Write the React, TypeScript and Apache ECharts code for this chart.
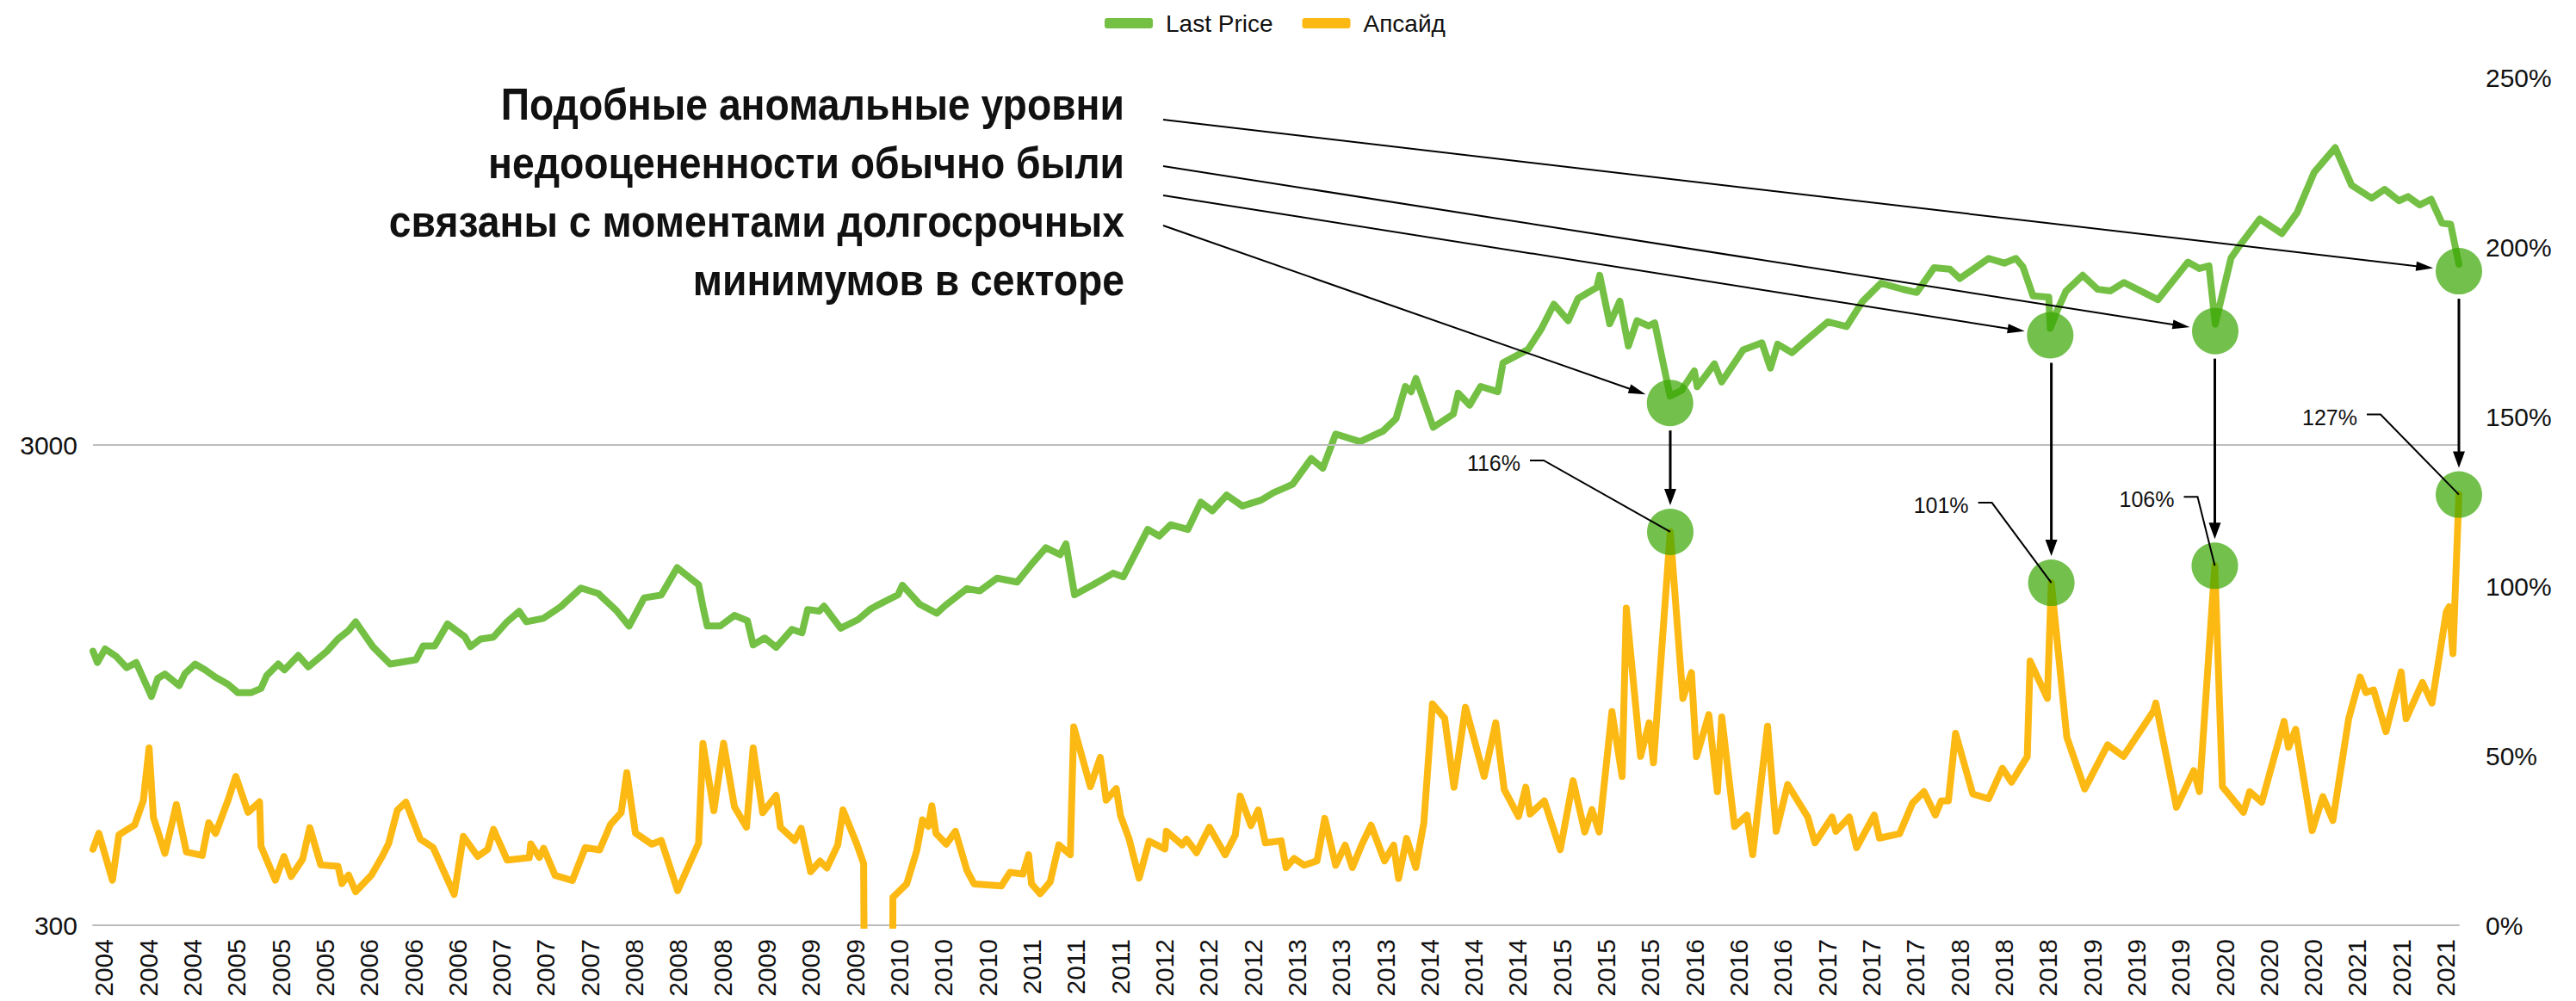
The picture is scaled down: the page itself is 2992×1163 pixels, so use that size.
import React, { useEffect, useRef } from 'react';
import * as echarts from 'echarts';

// ---- data (t = months since Jan 2004, value) ----
const lastPrice: [number, number][] = [
  [-1, 1117], [-0.6, 1058], [0.1, 1129], [1.09, 1090], [2.05, 1032], [2.91, 1058], [4.29, 899], [4.86, 980],
  [5.51, 1001], [6.81, 947], [7.33, 1003], [8.24, 1050], [9.15, 1021], [10.05, 987], [11.22, 953], [12.13, 915],
  [13.3, 915], [14.21, 934], [14.73, 994], [15.77, 1050], [16.34, 1021], [17.59, 1094], [18.5, 1036], [20.19, 1117],
  [21.18, 1184], [22.14, 1233], [22.78, 1286], [24.34, 1141], [25.9, 1050], [28.24, 1072], [28.89, 1145], [29.93, 1145],
  [31.1, 1273], [32.66, 1197], [33.18, 1141], [34.09, 1184], [35.26, 1195], [36.42, 1281], [37.59, 1352], [38.24, 1286],
  [39.8, 1308], [41.36, 1383], [43.18, 1512], [44.74, 1473], [46.43, 1354], [47.54, 1260], [48.9, 1442], [50.45, 1462],
  [51.89, 1667], [53.83, 1536], [54.22, 1383], [54.61, 1260], [55.78, 1260], [57.08, 1326], [58.25, 1293], [58.77, 1151],
  [59.81, 1190], [60.85, 1138], [62.28, 1240], [63.19, 1220], [63.7, 1364], [64.75, 1354], [65.18, 1386], [66.69, 1247],
  [68.25, 1299], [69.42, 1368], [69.81, 1384], [71.89, 1464], [72.28, 1533], [73.84, 1399], [75.39, 1340], [76.17, 1391],
  [78.12, 1508], [79.29, 1491], [80.85, 1585], [82.67, 1556], [84.1, 1709], [85.27, 1834], [86.57, 1774], [87.09, 1869],
  [87.87, 1464], [89.56, 1537], [91.37, 1624], [92.28, 1595], [94.49, 2003], [95.53, 1940], [96.57, 2048], [98.13, 2003],
  [99.3, 2282], [100.34, 2190], [101.64, 2361], [103.06, 2241], [104.75, 2304], [105.92, 2392], [106.7, 2434], [107.61, 2487],
  [109.3, 2814], [110.34, 2686], [111.51, 3165], [113.72, 3051], [115.8, 3211], [116.97, 3409], [117.82, 3976], [118.34, 3876],
  [118.78, 4131], [120.34, 3268], [122.16, 3484], [122.6, 3849], [123.64, 3636], [124.63, 3976], [126.19, 3876], [126.66, 4453],
  [128.92, 4745], [130.09, 5222], [131.26, 5898], [132.56, 5452], [133.46, 6065], [135.15, 6395], [135.41, 6774], [136.32, 5370],
  [137.23, 5987], [138.01, 4828], [138.79, 5452], [139.83, 5314], [140.39, 5395], [141.78, 3797], [142.82, 3900], [143.98, 4285],
  [144.24, 3971], [145.8, 4431], [146.45, 4062], [148.4, 4740], [150.09, 4902], [150.87, 4342], [151.52, 4869], [152.82, 4674],
  [153.73, 4879], [156.06, 5419], [157.76, 5298], [159.18, 5968], [160.87, 6525], [162.82, 6339], [164.12, 6240], [165.68, 7025],
  [167.11, 6979], [168.02, 6672], [170.62, 7346], [172.04, 7184], [173.09, 7346], [173.73, 7056], [174.64, 6140], [176.07, 6101],
  [176.2, 5253], [176.85, 5733], [177.63, 6280], [179.14, 6777], [180.49, 6336], [181.66, 6288], [182.88, 6546], [185.95, 6028],
  [188.67, 7218], [189.71, 7002], [190.57, 7089], [191.14, 5359], [192.57, 7361], [193.22, 7737], [195.17, 8874], [197.17, 8277],
  [198.55, 9148], [200.1, 11109], [202, 12498], [203.48, 10437], [205.3, 9808], [206.47, 10232], [207.77, 9688], [208.6, 9883],
  [209.64, 9496], [210.68, 9759], [211.67, 8701], [212.45, 8659], [213.2, 7143],
];

const upside: [number, number][] = [
  [-1, 22.4], [-0.47, 27.1], [0.76, 13.3], [1.35, 26.7], [2.78, 29.6], [3.56, 36.8], [4.08, 52.3], [4.47, 31.8],
  [5.51, 21.2], [6.55, 35.6], [7.46, 21.6], [8.89, 20.6], [9.48, 30.2], [10.1, 27.1], [11.22, 36.8], [11.93, 43.9],
  [13.04, 33.3], [14.08, 36.4], [14.21, 23.3], [15.51, 13.3], [16.29, 20.3], [16.94, 14.4], [17.98, 19.5], [18.63, 28.8],
  [19.62, 17.8], [21.18, 17.4], [21.54, 12.3], [22.14, 14.8], [22.78, 9.9], [24.21, 14.8], [25.12, 19.9], [25.77, 24.1],
  [26.55, 33.9], [27.33, 36.3], [28.63, 25.4], [29.8, 22.9], [31.7, 9.1], [32.53, 26.2], [33.83, 20.3], [34.74, 22.4],
  [35.26, 28.3], [36.5, 19.2], [38.5, 19.9], [38.63, 24], [39.41, 20], [39.8, 22.7], [40.84, 14.7], [42.4, 13.2],
  [43.57, 22.9], [44.87, 22.2], [45.85, 29.7], [46.82, 33.2], [47.33, 45], [48.11, 27.2], [49.6, 23.9], [50.45, 25],
  [51.93, 10.2], [53.83, 24.2], [54.22, 53.6], [55.21, 33.8], [56.09, 53.7], [57.08, 34.9], [58.17, 28.9], [58.77, 52.3],
  [59.63, 33.2], [60.85, 38.3], [61.24, 28.9], [62.53, 25], [63.11, 28.6], [63.97, 15.8], [64.82, 18.9], [65.45, 16.9],
  [66.43, 23.7], [66.9, 34], [68.12, 24.2], [68.77, 18.2], [69.5, -400], [71.0, -400], [71.42, 8.2], [72.67, 12.2],
  [73.58, 22], [74.1, 31.1], [74.62, 29.2], [74.95, 35.2], [75.32, 27.1], [76.25, 23.9], [77.08, 27.7], [78.12, 16.2],
  [78.77, 12.2], [81.24, 11.6], [82.02, 15.6], [83.19, 15.1], [83.71, 20.8], [83.97, 12.2], [84.75, 9.3], [85.66, 12.8],
  [86.44, 23.7], [87.48, 20.8], [87.79, 58.5], [89.3, 40.9], [90.2, 49.5], [90.73, 36.9], [91.64, 40.3], [92.03, 32.3],
  [92.81, 25.4], [93.71, 13.9], [94.62, 24.8], [96.05, 22.5], [96.18, 27.7], [97.61, 23.7], [98, 25.4], [98.91, 21.4],
  [100.08, 28.9], [101.5, 20.8], [102.42, 26.6], [102.86, 38.1], [103.84, 29.4], [104.5, 34], [105.14, 24.3], [106.57, 24.9],
  [107.01, 17], [107.74, 19.7], [108.65, 17.7], [109.82, 19], [110.52, 31.5], [111.51, 17.7], [112.37, 23.6], [113.02, 17],
  [113.85, 23.6], [114.71, 29.5], [115.93, 19], [116.76, 23.6], [117.2, 13.8], [117.93, 25.6], [118.76, 17], [119.49, 30.2],
  [120.27, 65.3], [121.38, 61], [122.22, 40.7], [123.26, 64.3], [124.95, 43.9], [126, 59.7], [126.77, 40], [128.06, 32.1],
  [128.72, 40.7], [129.11, 32.8], [130.4, 36.7], [131.84, 22.3], [133, 42.6], [134.06, 27.5], [134.71, 34.1], [135.36, 27.5],
  [136.52, 63], [137.44, 43.9], [137.82, 93.5], [139.11, 49.8], [139.89, 59.7], [140.28, 47.9], [141.8, 116], [142.94, 66.9],
  [143.72, 74.5], [144.17, 49.7], [145.29, 62.1], [146.07, 39.4], [146.46, 61.4], [147.62, 29.1], [148.74, 32.5], [149.26, 20.8],
  [150.61, 58.7], [151.39, 27.7], [152.43, 41.5], [154.25, 31.9], [154.9, 24.3], [156.45, 31.9], [156.8, 27.7], [158.01, 31.9],
  [158.67, 22.9], [160.27, 32.5], [160.74, 25.7], [162.56, 27], [163.73, 36], [164.77, 39.4], [165.8, 32.5], [166.33, 36.7],
  [166.98, 36.7], [167.63, 56.6], [169.19, 38.7], [170.62, 37.3], [171.87, 46.3], [172.7, 42.2], [174.12, 49.7], [174.38, 77.9],
  [175.94, 66.9], [176.3, 101], [177.7, 55.5], [179.32, 40.2], [181.4, 53.2], [182.83, 49.8], [185.56, 63.2], [185.76, 65.5],
  [187.63, 34.8], [189.19, 45.6], [189.71, 39.4], [191.1, 106], [191.79, 40.9], [193.69, 33.3], [194.26, 39.4], [195.35, 36.3],
  [197.37, 60.1], [197.77, 52.5], [198.42, 57.8], [199.92, 27.9], [200.88, 37.9], [201.79, 30.9], [203.22, 60.9], [204.26, 73.2],
  [204.78, 68.6], [205.48, 69.4], [206.6, 57.1], [207.97, 74.7], [208.42, 60.9], [209.9, 71.6], [210.76, 65.5], [212.06, 92.4],
  [212.32, 93.9], [212.66, 80.1], [213.2, 127],
];

const seriesNames = ['Last Price', 'Апсайд'];
const firstYear = 2004;
const priceBase = 300; // bottom of the log axis
const priceTop = 17500; // top of the log axis
const priceTickLabels = [300, 3000];
const upsideTicks = { min: 0, max: 250, step: 50 };
const noteLines = [
  'Подобные аномальные уровни',
  'недооцененности обычно были',
  'связаны с моментами долгосрочных',
  'минимумов в секторе',
];
// moments of deep undervaluation (t, months since Jan 2004)
const eventTimes = [141.8, 176.25, 191.1, 213.2];

// ---- styling ----
const GREEN = '#74C044';
const ORANGE = '#FDB913';
const GRID_GRAY = '#BDBDBD';
const AXIS_FONT = '"Liberation Sans", Arial, sans-serif';
const LOG_TOP = Math.log10(priceTop / priceBase);
const toLog = (p: number) => Math.log10(p / priceBase);

const nearest = (arr: [number, number][], t: number) => {
  let best = arr[0];
  for (const p of arr) if (Math.abs(p[0] - t) < Math.abs(best[0] - t)) best = p;
  return best;
};

function buildOption(): any {
  return {
    animation: false,
    backgroundColor: '#ffffff',
    textStyle: { fontFamily: AXIS_FONT },
    legend: {
      data: seriesNames,
      top: 13,
      left: 1283,
      padding: 0,
      itemWidth: 56,
      itemHeight: 12,
      itemGap: 34,
      icon: 'roundRect',
      textStyle: { fontFamily: AXIS_FONT, fontSize: 28, color: '#111', padding: [0, 0, 0, 10] },
    },
    grid: { left: 108, right: 136, top: 90, bottom: 88, containLabel: false },
    xAxis: {
      type: 'value',
      min: -1,
      max: 213.2,
      interval: 1,
      axisLine: { show: true, onZero: false, lineStyle: { color: GRID_GRAY, width: 2 } },
      axisTick: { show: false },
      splitLine: { show: false },
      axisLabel: {
        rotate: 90,
        margin: 16,
        fontSize: 30,
        color: '#111',
        fontFamily: AXIS_FONT,
        showMinLabel: true,
        showMaxLabel: true,
        formatter: (v: number) => {
          const r = Math.round(v);
          if (Math.abs(v - r) > 1e-6 || r < 0 || r % 4 !== 0) return '';
          return String(firstYear + Math.floor(r / 12));
        },
      },
    },
    yAxis: [
      {
        type: 'value',
        min: 0,
        max: LOG_TOP,
        interval: 1,
        axisLine: { show: false },
        axisTick: { show: false },
        splitLine: { show: false },
        axisLabel: {
          margin: 18,
          fontSize: 30,
          color: '#111',
          fontFamily: AXIS_FONT,
          formatter: (v: number) => {
            const hit = priceTickLabels.find((p) => Math.abs(toLog(p) - v) < 1e-6);
            return hit ? String(hit) : '';
          },
        },
      },
      {
        type: 'value',
        position: 'right',
        min: upsideTicks.min,
        max: upsideTicks.max,
        interval: upsideTicks.step,
        axisLine: { show: false },
        axisTick: { show: false },
        splitLine: { show: false },
        axisLabel: { margin: 31, fontSize: 30, color: '#111', fontFamily: AXIS_FONT, formatter: '{value}%' },
      },
    ],
    series: [
      {
        name: '__grid',
        type: 'line',
        yAxisIndex: 0,
        data: [],
        z: 1,
        markLine: {
          silent: true,
          symbol: 'none',
          label: { show: false },
          lineStyle: { color: GRID_GRAY, width: 2, type: 'solid' },
          data: [{ yAxis: toLog(priceTickLabels[1]) }],
        },
      },
      {
        name: seriesNames[1],
        type: 'line',
        yAxisIndex: 1,
        data: upside,
        showSymbol: false,
        symbol: 'none',
        z: 3,
        itemStyle: { color: ORANGE },
        lineStyle: { color: ORANGE, width: 8, cap: 'round', join: 'round' },
      },
      {
        name: seriesNames[0],
        type: 'line',
        yAxisIndex: 0,
        data: lastPrice.map(([t, p]) => [t, toLog(p)]),
        showSymbol: false,
        symbol: 'none',
        z: 4,
        itemStyle: { color: GREEN },
        lineStyle: { color: GREEN, width: 8, cap: 'round', join: 'round' },
      },
    ],
  };
}

function buildGraphics(chart: any): any[] {
  const els: any[] = [];
  const R = 27;
  const px = (t: number, v: number, ax: number) => chart.convertToPixel({ xAxisIndex: 0, yAxisIndex: ax }, [t, v]);

  const noteRight = 1306;
  const noteMid = [121, 189, 257, 325];
  noteLines.forEach((s, i) => {
    els.push({
      type: 'text',
      x: noteRight,
      y: noteMid[i],
      scaleX: 0.89,
      z: 60,
      style: {
        text: s,
        fill: '#111',
        fontFamily: AXIS_FONT,
        fontWeight: 'bold',
        fontSize: 52,
        align: 'right',
        textAlign: 'right',
        verticalAlign: 'middle',
        textVerticalAlign: 'middle',
      },
    });
  });

  const arrowHead = (tx: number, ty: number, ux: number, uy: number, L: number, W: number) => ({
    type: 'polygon',
    z: 55,
    shape: {
      points: [
        [tx, ty],
        [tx - ux * L - uy * W, ty - uy * L + ux * W],
        [tx - ux * L + uy * W, ty - uy * L - ux * W],
      ],
    },
    style: { fill: '#000' },
  });
  const arrow = (x1: number, y1: number, x2: number, y2: number, w: number, L: number, W: number) => {
    const dx = x2 - x1, dy = y2 - y1;
    const len = Math.hypot(dx, dy);
    const ux = dx / len, uy = dy / len;
    els.push({
      type: 'line',
      z: 55,
      shape: { x1, y1, x2: x2 - ux * L * 0.6, y2: y2 - uy * L * 0.6 },
      style: { stroke: '#000', lineWidth: w },
    });
    els.push(arrowHead(x2, y2, ux, uy, L, W));
  };

  const ev = eventTimes.map((t) => {
    const p = nearest(lastPrice, t);
    const u = nearest(upside, t);
    const pp = px(p[0], toLog(p[1]), 0);
    const up = px(u[0], u[1], 1);
    return { price: [pp[0], pp[1] + 8], up, upVal: u[1] };
  });

  // translucent highlight circles
  ev.forEach((e) => {
    [e.price, e.up].forEach((c) => {
      els.push({
        type: 'circle',
        z: 50,
        shape: { cx: c[0], cy: c[1], r: R },
        style: { fill: 'rgba(56,165,0,0.7)' },
      });
    });
  });

  // arrows from the note to the price minima
  const noteStarts = [[1351, 139], [1351, 193], [1351, 227], [1351, 262]];
  const noteTargets = [3, 2, 1, 0];
  noteStarts.forEach((s, i) => {
    const c = ev[noteTargets[i]].price;
    const dx = c[0] - s[0], dy = c[1] - s[1];
    const len = Math.hypot(dx, dy);
    const tx = c[0] - (dx / len) * (R + 3);
    const ty = c[1] - (dy / len) * (R + 3);
    arrow(s[0], s[1], tx, ty, 2, 20, 5.5);
  });

  // vertical arrows price -> upside
  ev.forEach((e) => {
    const x = e.up[0];
    arrow(x, e.price[1] + R + 5, x, e.up[1] - R - 4, 3, 19, 7);
  });

  // value labels with leaders
  const labelOffsets = [[-174, -80], [-96, -90], [-47, -77], [-118, -90]];
  ev.forEach((e, i) => {
    const tx = e.up[0] + labelOffsets[i][0];
    const ty = e.up[1] + labelOffsets[i][1];
    els.push({
      type: 'text',
      x: tx,
      y: ty,
      z: 60,
      style: {
        text: `${Math.round(e.upVal)}%`,
        fill: '#111',
        fontFamily: AXIS_FONT,
        fontSize: 25,
        align: 'right',
        textAlign: 'right',
        verticalAlign: 'middle',
        textVerticalAlign: 'middle',
      },
    });
    els.push({
      type: 'polyline',
      z: 56,
      shape: { points: [[tx + 11, ty - 3], [tx + 27, ty - 3], [e.up[0], e.up[1]]] },
      style: { stroke: '#000', lineWidth: 2, fill: null },
    });
  });

  return els;
}

export default function App() {
  const ref = useRef<HTMLDivElement>(null);
  useEffect(() => {
    if (!ref.current) return;
    const chart = echarts.init(ref.current, null, { renderer: 'svg' });
    chart.setOption(buildOption());
    chart.setOption({ graphic: { elements: buildGraphics(chart) } });
    return () => chart.dispose();
  }, []);
  return (
    <div
      ref={ref}
      style={{ position: 'absolute', left: 0, top: 0, width: 2992, height: 1163, background: '#fff' }}
    />
  );
}
